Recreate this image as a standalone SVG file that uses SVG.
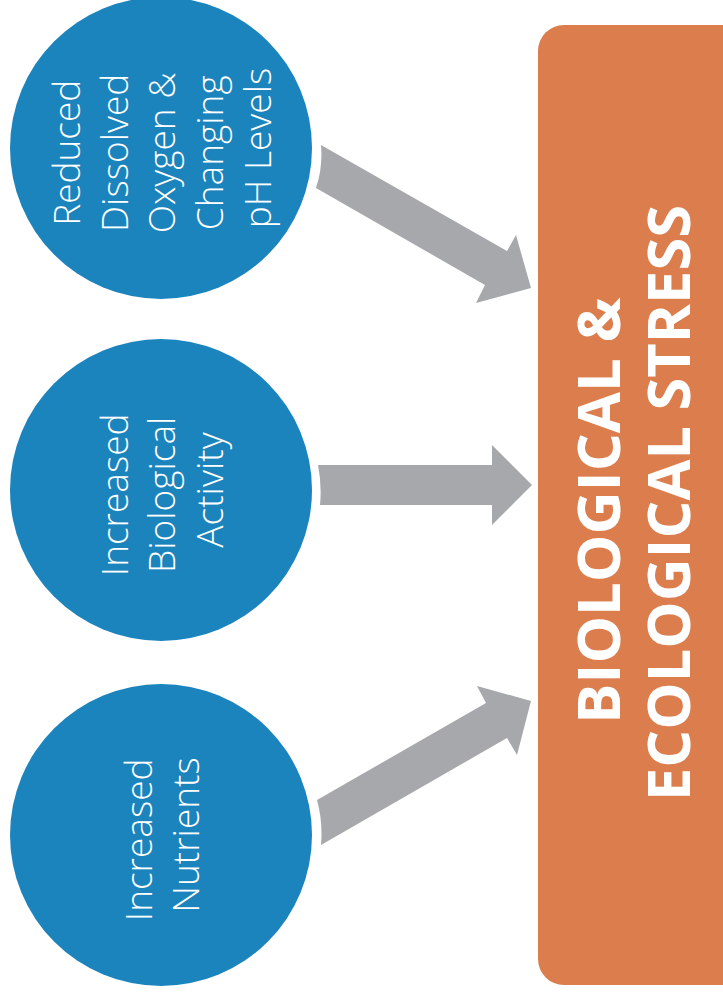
<svg xmlns="http://www.w3.org/2000/svg" width="723" height="995" viewBox="0 0 723 995">
<style>
.node{fill:#1B84BD}
.lbl{fill:#fff;font-family:"Open Sans","Noto Sans",sans-serif;font-weight:350;font-size:37px;text-anchor:middle}
.arrow{fill:#A7A8AB}
.box{fill:#DB7D4C}
.big{fill:#fff;font-family:"Open Sans","Liberation Sans",sans-serif;font-weight:700;font-size:59px;text-anchor:middle}
</style>
<rect width="723" height="995" fill="#fff"/>
<g id="connectors">
<path class="arrow" d="M321,145 L507,251 L516,235 L531,288 L476,303 L485,285 L316,188 Q323,167 321,145 Z"/>
<path class="arrow" d="M318,465 L492,465 L492,445 L532,485 L492,525 L492,505 L320,505 Q322,485 318,465 Z"/>
<path class="arrow" d="M317,800 L486,703 L477,686 L531,701 L517,755 L507,738 L321,845 Q323,822 317,800 Z"/>
</g>
<g id="node-oxygen">
<circle class="node" cx="161" cy="148" r="151"/>
<text class="lbl" transform="translate(161,148) rotate(-90)">
<tspan x="0" y="-81">Reduced</tspan>
<tspan x="0" y="-33">Dissolved</tspan>
<tspan x="0" y="14">Oxygen &amp;</tspan>
<tspan x="0" y="62">Changing</tspan>
<tspan x="0" y="110">pH Levels</tspan>
</text>
</g>
<g id="node-activity">
<circle class="node" cx="161" cy="490" r="151"/>
<text class="lbl" transform="translate(161,490) rotate(-90)">
<tspan x="0" y="-33">Increased</tspan>
<tspan x="0" y="14">Biological</tspan>
<tspan x="0" y="62">Activity</tspan>
</text>
</g>
<g id="node-nutrients">
<circle class="node" cx="161" cy="835" r="151"/>
<text class="lbl" transform="translate(161,835) rotate(-90)">
<tspan x="0" y="-9">Increased</tspan>
<tspan x="0" y="38">Nutrients</tspan>
</text>
</g>
<g id="node-stress">
<rect class="box" x="538" y="25" width="210" height="960" rx="26" ry="26"/>
<text class="big" transform="translate(630,503) rotate(-90)">
<tspan x="0" y="-10" textLength="426" lengthAdjust="spacingAndGlyphs">BIOLOGICAL &amp;</tspan>
<tspan x="0" y="60" textLength="596" lengthAdjust="spacingAndGlyphs">ECOLOGICAL STRESS</tspan>
</text>
</g>
</svg>
